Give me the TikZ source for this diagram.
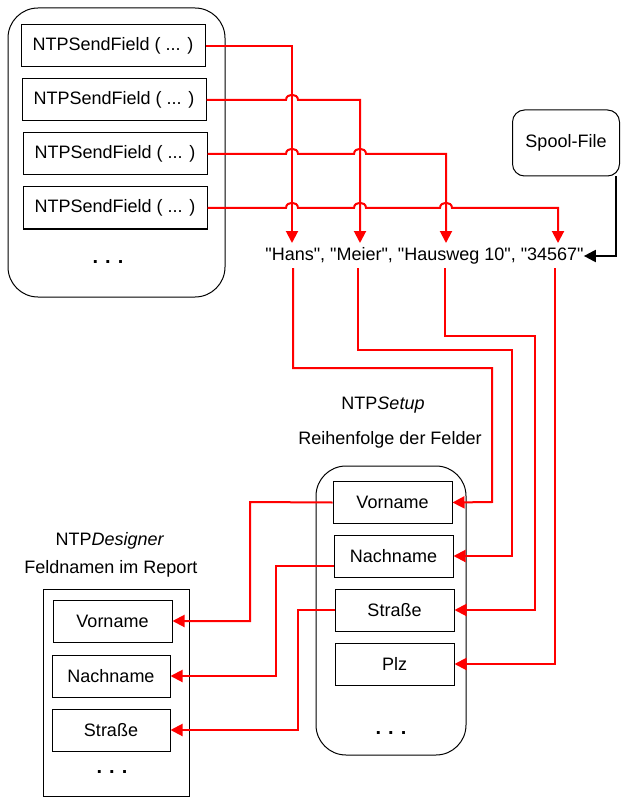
\documentclass[tikz,border=0pt]{standalone}
\usepackage{fontspec}
\setmainfont{Liberation Sans}[Ligatures=TeXOff]
\usetikzlibrary{arrows.meta}
\begin{document}
\begin{tikzpicture}[x=1pt,y=-1pt,
  font=\fontsize{18}{21}\selectfont,
  box/.style={draw, line width=1pt, minimum height=42pt, inner sep=0pt},
  sendbox/.style={box, minimum width=184pt},
  fieldbox/.style={box, minimum width=119pt},
  container/.style={draw, line width=1pt, inner sep=0pt},
  wire/.style={draw=red, line width=2pt},
  tip/.style={-{Triangle[length=12pt,width=12pt]}},
  dots/.style={font=\fontsize{20}{22}\selectfont\bfseries, inner sep=0pt},
  lbl/.style={inner sep=0pt}]
\useasboundingbox (0,0) rectangle (628,802);

% top-left container
\node[container, rounded corners=30pt, minimum width=217pt, minimum height=289pt] (cont1) at (116.5,152.5) {};
\node[sendbox] (s1) at (113,46) {NTPSendField ( ... )};
\node[sendbox] (s2) at (114,100) {NTPSendField ( ... )};
\node[sendbox] (s3) at (115,154) {NTPSendField ( ... )};
\node[sendbox] (s4) at (115,208) {NTPSendField ( ... )};
\node[dots] (d0) at (108,262) {.\hspace{7pt}.\hspace{7pt}.};

% spool file
\node[container, rounded corners=12pt, minimum width=107pt, minimum height=66pt] (sp) at (566,143) {Spool-File};

% data string
\node[lbl] (str) at (424.5,256) {"Hans", "Meier", "Hausweg 10", "34567"};

\coordinate (t1) at (292,243);
\coordinate (t2) at (360,243);
\coordinate (t3) at (446,243);
\coordinate (t4) at (558,243);

\draw[wire, tip] (s1.east) -- (292,46) -- (t1);
\draw[wire, tip] (s2.east) -- (286,100) .. controls (286,93) and (298,93) .. (298,100) -- (360,100) -- (t2);
\draw[wire, tip] (s3.east) -- (286,154) .. controls (286,147) and (298,147) .. (298,154)
  -- (354,154) .. controls (354,147) and (366,147) .. (366,154) -- (446,154) -- (t3);
\draw[wire, tip] (s4.east) -- (286,208) .. controls (286,201) and (298,201) .. (298,208)
  -- (354,208) .. controls (354,201) and (366,201) .. (366,208)
  -- (440,208) .. controls (440,201) and (452,201) .. (452,208) -- (558,208) -- (t4);

\coordinate (sps) at (616,176);
\draw[line width=2pt, tip] (sps) -- (616,256) -- (str.east);

% NTPSetup
\node[lbl] (setupT) at (383,405) {NTP\textit{Setup}};
\node[lbl] (setupR) at (390,440) {Reihenfolge der Felder};
\node[container, rounded corners=30pt, minimum width=150pt, minimum height=289pt] (cont2) at (391,610.5) {};
\node[fieldbox] (v1) at (392.5,502.5) {Vorname};
\node[fieldbox] (v2) at (393.5,556) {Nachname};
\node[fieldbox] (v3) at (394.5,610) {Straße};
\node[fieldbox] (v4) at (394.5,664) {Plz};
\node[dots] (d2) at (391,733) {.\hspace{7pt}.\hspace{7pt}.};

\coordinate (b1) at (293,268);
\coordinate (b2) at (358,268);
\coordinate (b3) at (445,268);
\coordinate (b4) at (555,268);
\draw[wire, tip] (b1) -- (293,368) -- (492,368) -- (492,502) -- (v1.east);
\draw[wire, tip] (b2) -- (358,350) -- (512,350) -- (512,556) -- (v2.east);
\draw[wire, tip] (b3) -- (445,336) -- (535,336) -- (535,610) -- (v3.east);
\draw[wire, tip] (b4) -- (555,664) -- (v4.east);

% NTPDesigner
\node[lbl] (desT) at (110,541) {NTP\textit{Designer}};
\node[lbl] (desR) at (111,569) {Feldnamen im Report};
\node[container, minimum width=146pt, minimum height=207pt] (cont3) at (116,692.5) {};
\node[box, minimum width=119pt] (f1) at (112.5,621) {Vorname};
\node[box, minimum width=118pt] (f2) at (111,676) {Nachname};
\node[box, minimum width=118pt] (f3) at (111,730) {Straße};
\node[dots] (d3) at (112,772) {.\hspace{7pt}.\hspace{7pt}.};

\draw[wire, tip] (v1.west) -- (250,502) -- (250,621) -- (f1.east);
\draw[wire, tip] ([yshift=-10pt]v2.west) -- (276,566) -- (276,676) -- (f2.east);
\draw[wire, tip] (v3.west) -- (298,610) -- (298,730) -- (f3.east);
\end{tikzpicture}
\end{document}
